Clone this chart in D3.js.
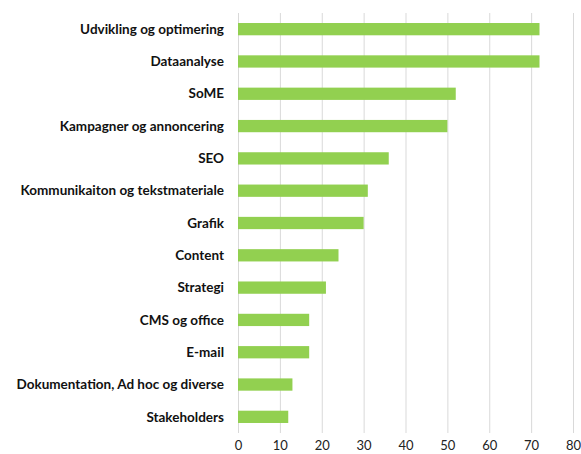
<!DOCTYPE html>
<html>
<head>
<meta charset="utf-8">
<script src="https://cdn.jsdelivr.net/npm/d3@7"></script>
<style>
  body { margin: 0; background: #fff; }
  svg { display: block; }
</style>
</head>
<body>
<div id="chart"></div>
<script>
// data
const categories = [
    'Udvikling og optimering',
    'Dataanalyse',
    'SoME',
    'Kampagner og annoncering',
    'SEO',
    'Kommunikaiton og tekstmateriale',
    'Grafik',
    'Content',
    'Strategi',
    'CMS og office',
    'E-mail',
    'Dokumentation, Ad hoc og diverse',
    'Stakeholders'
];
const values = [72, 72, 52, 50, 36, 31, 30, 24, 21, 17, 17, 13, 12];
const tickValues = [0, 10, 20, 30, 40, 50, 60, 70, 80];

const width = 581;
const height = 454;

const svg = d3.select('#chart')
    .append('svg')
    .attr('width', width)
    .attr('height', height);

const x = d3.scaleLinear().domain([0, 80]).range([238, 573]);
const y = d3.scaleBand().domain(categories).range([13, 433]).paddingInner(0.62).paddingOuter(0.31);

// gridlines
svg.selectAll('.grid')
    .data(tickValues)
    .enter()
    .append('line')
    .attr('class', 'grid')
    .attr('x1', d => x(d) + 0.5)
    .attr('x2', d => x(d) + 0.5)
    .attr('y1', 13)
    .attr('y2', 433)
    .attr('stroke', '#d9d9d9')
    .attr('stroke-width', 1);

// bars
svg.selectAll('.bar')
    .data(values)
    .enter()
    .append('rect')
    .attr('class', 'bar')
    .attr('x', x(0))
    .attr('y', (d, i) => y(categories[i]))
    .attr('width', d => x(d) - x(0))
    .attr('height', y.bandwidth())
    .attr('fill', '#92d050');

// category labels
svg.selectAll('.cat')
    .data(categories)
    .enter()
    .append('text')
    .attr('class', 'cat')
    .attr('x', 224)
    .attr('y', d => y(d) + y.bandwidth() / 2)
    .attr('dy', '0.35em')
    .attr('text-anchor', 'end')
    .attr('font-family', 'Lato, sans-serif')
    .attr('font-weight', 'bold')
    .attr('font-size', 13.5)
    .attr('fill', '#111')
    .text(d => d);

// x axis tick labels (no axis line), kept just inside the bottom edge
const xAxis = d3.axisBottom(x).tickValues(tickValues).tickSize(0).tickPadding(0);
const gx = svg.append('g')
    .attr('transform', 'translate(0, 441)')
    .call(xAxis);
gx.select('.domain').remove();
gx.selectAll('text')
    .attr('font-family', 'Lato, sans-serif')
    .attr('font-size', 13)
    .attr('fill', '#222');
</script>
</body>
</html>
